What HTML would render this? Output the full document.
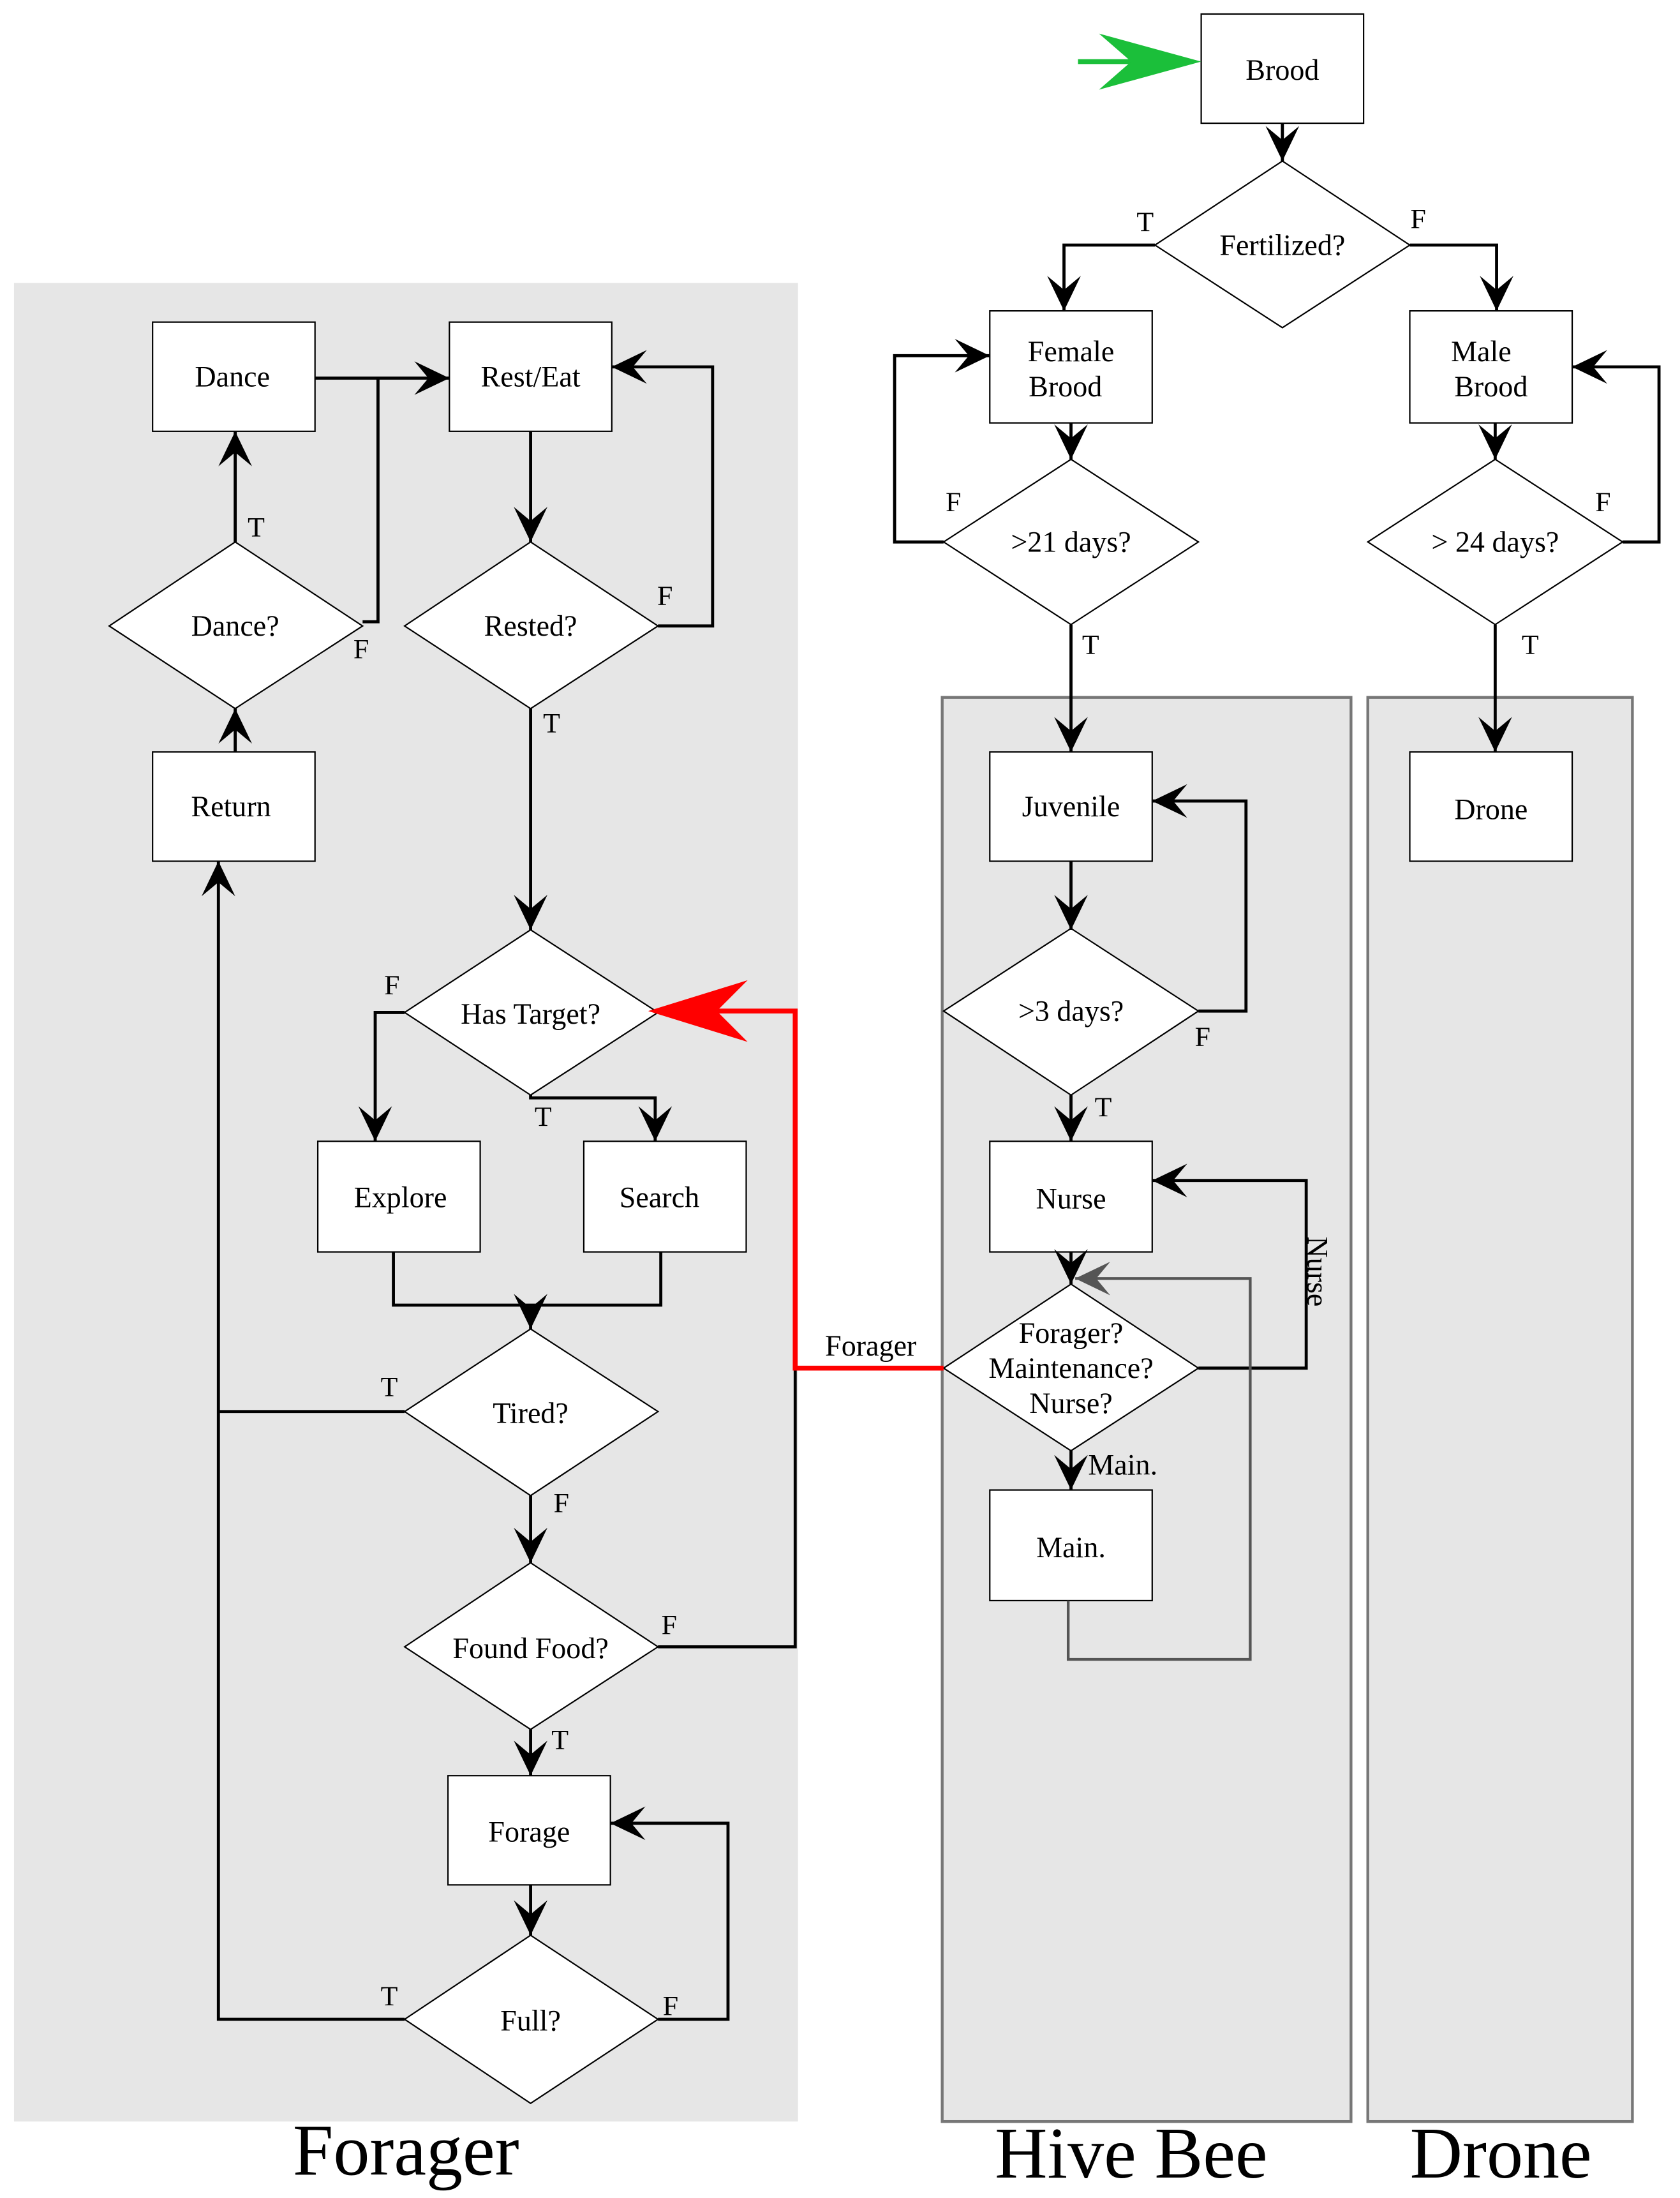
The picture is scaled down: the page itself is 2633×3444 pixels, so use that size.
<!DOCTYPE html>
<html><head><meta charset="utf-8"><style>
html,body{margin:0;padding:0;background:#fff;}
svg{display:block;}
svg text{font-family:"Liberation Serif","DejaVu Serif",serif !important;fill:#000;}
</style></head><body>
<svg width="2633" height="3444" viewBox="0 0 1200 1569.6" xmlns="http://www.w3.org/2000/svg" font-family="Liberation Serif, serif">
<defs>
<marker id="a" markerWidth="30" markerHeight="28" viewBox="-28 -14 30 28" refX="0" refY="0" orient="auto" markerUnits="userSpaceOnUse">
<path d="M0,0 L-25,-12 L-15,0 L-25,12 Z" fill="#000"/></marker>
<marker id="g" markerWidth="30" markerHeight="28" viewBox="-28 -14 30 28" refX="0" refY="0" orient="auto" markerUnits="userSpaceOnUse">
<path d="M0,0 L-25,-12 L-15,0 L-25,12 Z" fill="#555"/></marker>
</defs>
<rect width="1200" height="1570" fill="#fff"/>
<rect x="10" y="202" width="560" height="1313" fill="#e6e6e6"/>
<rect x="673" y="498" width="292" height="1017" fill="#e6e6e6" stroke="#777" stroke-width="2"/>
<rect x="977" y="498" width="189" height="1017" fill="#e6e6e6" stroke="#777" stroke-width="2"/>

<g fill="#fff" stroke="#000" stroke-width="1">
<rect x="858" y="10" width="116" height="78"/>
<rect x="707" y="222" width="116" height="80"/>
<rect x="1007" y="222" width="116" height="80"/>
<rect x="109" y="230" width="116" height="78"/>
<rect x="321" y="230" width="116" height="78"/>
<rect x="109" y="537" width="116" height="78"/>
<rect x="227" y="815" width="116" height="79"/>
<rect x="417" y="815" width="116" height="79"/>
<rect x="707" y="537" width="116" height="78"/>
<rect x="707" y="815" width="116" height="79"/>
<rect x="707" y="1064" width="116" height="79"/>
<rect x="1007" y="537" width="116" height="78"/>
<rect x="320" y="1268" width="116" height="78"/>
<polygon points="825,175 916,115 1007,175 916,234"/>
<polygon points="674,387 765,328 856,387 765,446"/>
<polygon points="977,387 1068,328 1159,387 1068,446"/>
<polygon points="78,447 168,387 259,447 168,506"/>
<polygon points="289,447 379,387 470,447 379,506"/>
<polygon points="289,723 379,664 470,723 379,782"/>
<polygon points="674,722 765,663 856,722 765,782"/>
<polygon points="289,1008 379,949 470,1008 379,1068"/>
<polygon points="674,977 765,917 856,977 765,1036"/>
<polygon points="289,1176 379,1116 470,1176 379,1235"/>
<polygon points="289,1442 379,1382 470,1442 379,1502"/>
</g>

<g fill="none" stroke="#000" stroke-width="2.2">
<path d="M916,88 V115" marker-end="url(#a)"/>
<path d="M825,175 H760 V222" marker-end="url(#a)"/>
<path d="M1007,175 H1069 V222" marker-end="url(#a)"/>
<path d="M765,302 V328" marker-end="url(#a)"/>
<path d="M674,387 H639 V254 H707" marker-end="url(#a)"/>
<path d="M765,446 V537" marker-end="url(#a)"/>
<path d="M1068,302 V328" marker-end="url(#a)"/>
<path d="M1159,387 H1185 V262 H1123" marker-end="url(#a)"/>
<path d="M1068,446 V537" marker-end="url(#a)"/>
<path d="M765,615 V664" marker-end="url(#a)"/>
<path d="M856,722 H890 V572 H823" marker-end="url(#a)"/>
<path d="M765,782 V815" marker-end="url(#a)"/>
<path d="M765,894 V917" marker-end="url(#a)"/>
<path d="M856,977 H933 V843 H823" marker-end="url(#a)"/>
<path d="M765,1036 V1064" marker-end="url(#a)"/>
<path d="M470,1176 H568 V977"/>
<path d="M379,308 V387" marker-end="url(#a)"/>
<path d="M470,447 H509 V262 H437" marker-end="url(#a)"/>
<path d="M379,506 V664" marker-end="url(#a)"/>
<path d="M168,387 V308" marker-end="url(#a)"/>
<path d="M225,270 H321" marker-end="url(#a)"/>
<path d="M259,444 H270 V270"/>
<path d="M168,537 V506" marker-end="url(#a)"/>
<path d="M289,723 H268 V815" marker-end="url(#a)"/>
<path d="M379,782 V784 H468 V815" marker-end="url(#a)"/>
<path d="M281,894 V932 H472 V894"/>
<path d="M379,932 V949" marker-end="url(#a)"/>
<path d="M289,1008 H156"/>
<path d="M289,1442 H156 V615" marker-end="url(#a)"/>
<path d="M379,1068 V1116" marker-end="url(#a)"/>
<path d="M379,1235 V1268" marker-end="url(#a)"/>
<path d="M379,1346 V1382" marker-end="url(#a)"/>
<path d="M470,1442 H520 V1302 H436" marker-end="url(#a)"/>
</g>
<path d="M763,1143 V1185 H893 V913 H768" fill="none" stroke="#555" stroke-width="2" marker-end="url(#g)"/>
<path d="M674,977 H568 V722 H500" fill="none" stroke="#f00" stroke-width="3.5"/>
<path d="M463,722 L534,700 L512,722 L534,744 Z" fill="#f00"/>
<path d="M770,44 H830" stroke="#1bbf3a" stroke-width="3.5"/>
<path d="M858,44 L785,24 L808,44 L785,64 Z" fill="#1bbf3a"/>

<g font-size="21" text-anchor="middle" font-family="Liberation Serif, serif">
<text x="916" y="57">Brood</text>
<text x="916" y="182">Fertilized?</text>
<text x="765" y="258">Female</text><text x="761" y="283">Brood</text>
<text x="1058" y="258">Male</text><text x="1065" y="283">Brood</text>
<text x="765" y="394">&gt;21 days?</text>
<text x="1068" y="394">&gt; 24 days?</text>
<text x="166" y="276">Dance</text>
<text x="379" y="276">Rest/Eat</text>
<text x="168" y="454">Dance?</text>
<text x="379" y="454">Rested?</text>
<text x="165" y="583">Return</text>
<text x="765" y="583">Juvenile</text>
<text x="1065" y="585">Drone</text>
<text x="379" y="731">Has Target?</text>
<text x="765" y="729">&gt;3 days?</text>
<text x="286" y="862">Explore</text>
<text x="471" y="862">Search</text>
<text x="765" y="863">Nurse</text>
<text x="765" y="959">Forager?</text>
<text x="765" y="984">Maintenance?</text>
<text x="765" y="1009">Nurse?</text>
<text x="379" y="1016">Tired?</text>
<text x="765" y="1112">Main.</text>
<text x="379" y="1184">Found Food?</text>
<text x="378" y="1315">Forage</text>
<text x="379" y="1450">Full?</text>
<text x="622" y="968">Forager</text>
<text x="802" y="1053">Main.</text>
</g>
<text x="934" y="908" font-size="21" text-anchor="middle" font-family="Liberation Serif, serif" transform="rotate(90 934 908)">Nurse</text>
<g font-size="20" text-anchor="middle" font-family="Liberation Serif, serif">
<text x="818" y="165">T</text><text x="1013" y="163">F</text>
<text x="681" y="365">F</text><text x="779" y="467">T</text>
<text x="1145" y="365">F</text><text x="1093" y="467">T</text>
<text x="859" y="747">F</text><text x="788" y="797">T</text>
<text x="475" y="432">F</text><text x="394" y="523">T</text>
<text x="183" y="383">T</text><text x="258" y="470">F</text>
<text x="280" y="710">F</text><text x="388" y="804">T</text>
<text x="278" y="997">T</text><text x="401" y="1080">F</text>
<text x="478" y="1167">F</text><text x="400" y="1249">T</text>
<text x="278" y="1432">T</text><text x="479" y="1439">F</text>
</g>
<g font-size="52" text-anchor="middle" font-family="Liberation Serif, serif">
<text x="290" y="1553">Forager</text>
<text x="808" y="1555">Hive Bee</text>
<text x="1072" y="1555">Drone</text>
</g>
</svg>
</body></html>
